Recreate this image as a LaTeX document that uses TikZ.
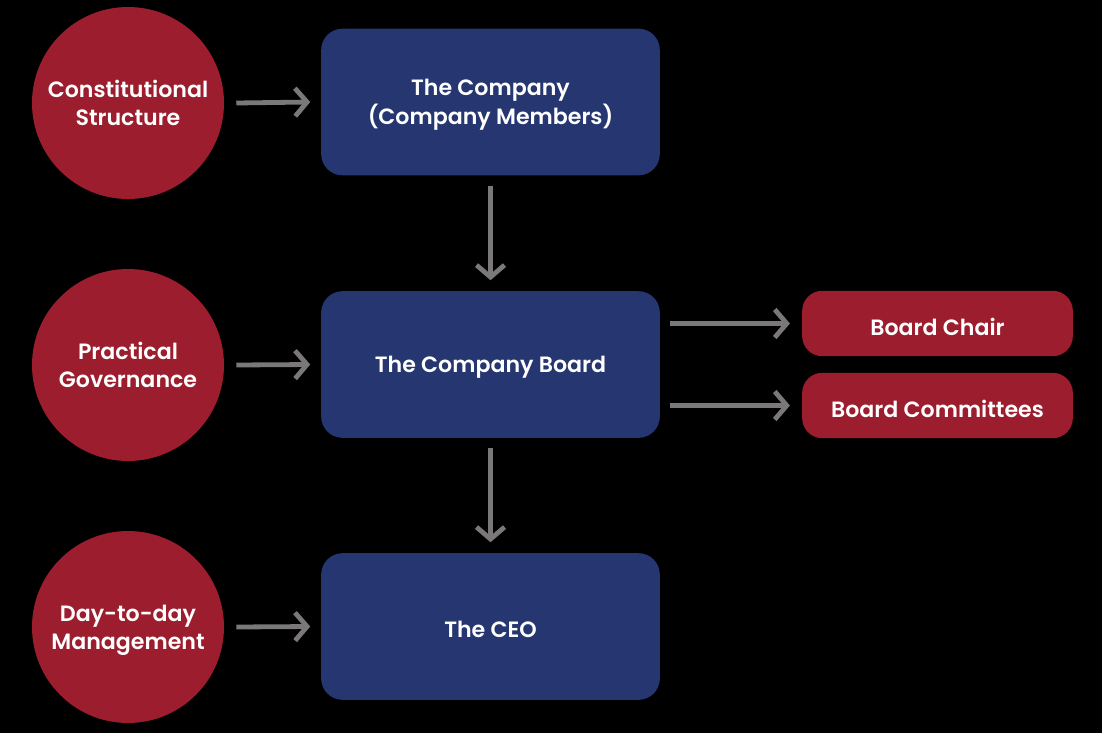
\documentclass[tikz,border=0pt]{standalone}
\usepackage{fontspec}
\setmainfont{Poppins}[BoldFont={Poppins SemiBold}]
\usetikzlibrary{arrows.meta}
\definecolor{cred}{HTML}{9B1D2E}
\definecolor{cblue}{HTML}{253670}
\definecolor{cgray}{HTML}{7A7878}
\newcommand{\twoline}[2]{\raisebox{-2pt}[\height][\depth]{\begin{tabular}{@{}c@{}}#1\\#2\end{tabular}}}
\newcommand{\oneline}[1]{\raisebox{-2.3pt}[\height][\depth]{#1}}
\begin{document}
\begin{tikzpicture}[x=0.75pt,y=-0.75pt,
  txt/.style={text=white,font=\bfseries\fontsize{16.6}{21.6}\selectfont,align=center},
  circ/.style={circle,fill=cred,minimum size=144pt,inner sep=0pt,txt},
  bbox/.style={rectangle,rounded corners=16pt,fill=cblue,minimum width=254pt,minimum height=110pt,inner sep=0pt,txt},
  pill/.style={rectangle,rounded corners=15pt,fill=cred,minimum width=203pt,minimum height=49pt,inner sep=0pt,txt},
  arr/.style={draw=cgray,line width=3.6pt,-{Straight Barb[length=9pt,width=21pt,line width=3.6pt]}}
]
\fill[black] (0,0) rectangle (1102,733);
\useasboundingbox (0,0) rectangle (1102,733);
\node[circ] (c1) at (128,103) {\twoline{Constitutional}{Structure}};
\node[circ] (c2) at (128,365) {\twoline{Practical}{Governance}};
\node[circ] (c3) at (128,627) {\twoline{Day-to-day}{Management}};
\node[bbox] (b1) at (490.5,102) {\twoline{The Company}{(Company Members)}};
\node[bbox] (b2) at (490.5,364.5) {\oneline{The Company Board}};
\node[bbox] (b3) at (490.5,626.5) {\oneline{The CEO}};
\node[pill] (p1) at (937.5,323.5) {\oneline{Board Chair}};
\node[pill] (p2) at (937.5,405.5) {\oneline{Board Committees}};
\draw[arr] ([xshift=9pt]c1.east) -- ([xshift=-8pt]b1.west);
\draw[arr] ([xshift=9pt]c2.east) -- ([xshift=-8pt]b2.west);
\draw[arr] ([xshift=9pt]c3.east) -- ([xshift=-8pt]b3.west);
\draw[arr] ([yshift=-7.5pt]b1.south) -- ([yshift=8pt]b2.north);
\draw[arr] ([yshift=-7.5pt]b2.south) -- ([yshift=8pt]b3.north);
\draw[arr] ([xshift=7.5pt]b2.east |- p1.west) -- ([xshift=-9pt]p1.west);
\draw[arr] ([xshift=7.5pt]b2.east |- p2.west) -- ([xshift=-9pt]p2.west);
\end{tikzpicture}
\end{document}
